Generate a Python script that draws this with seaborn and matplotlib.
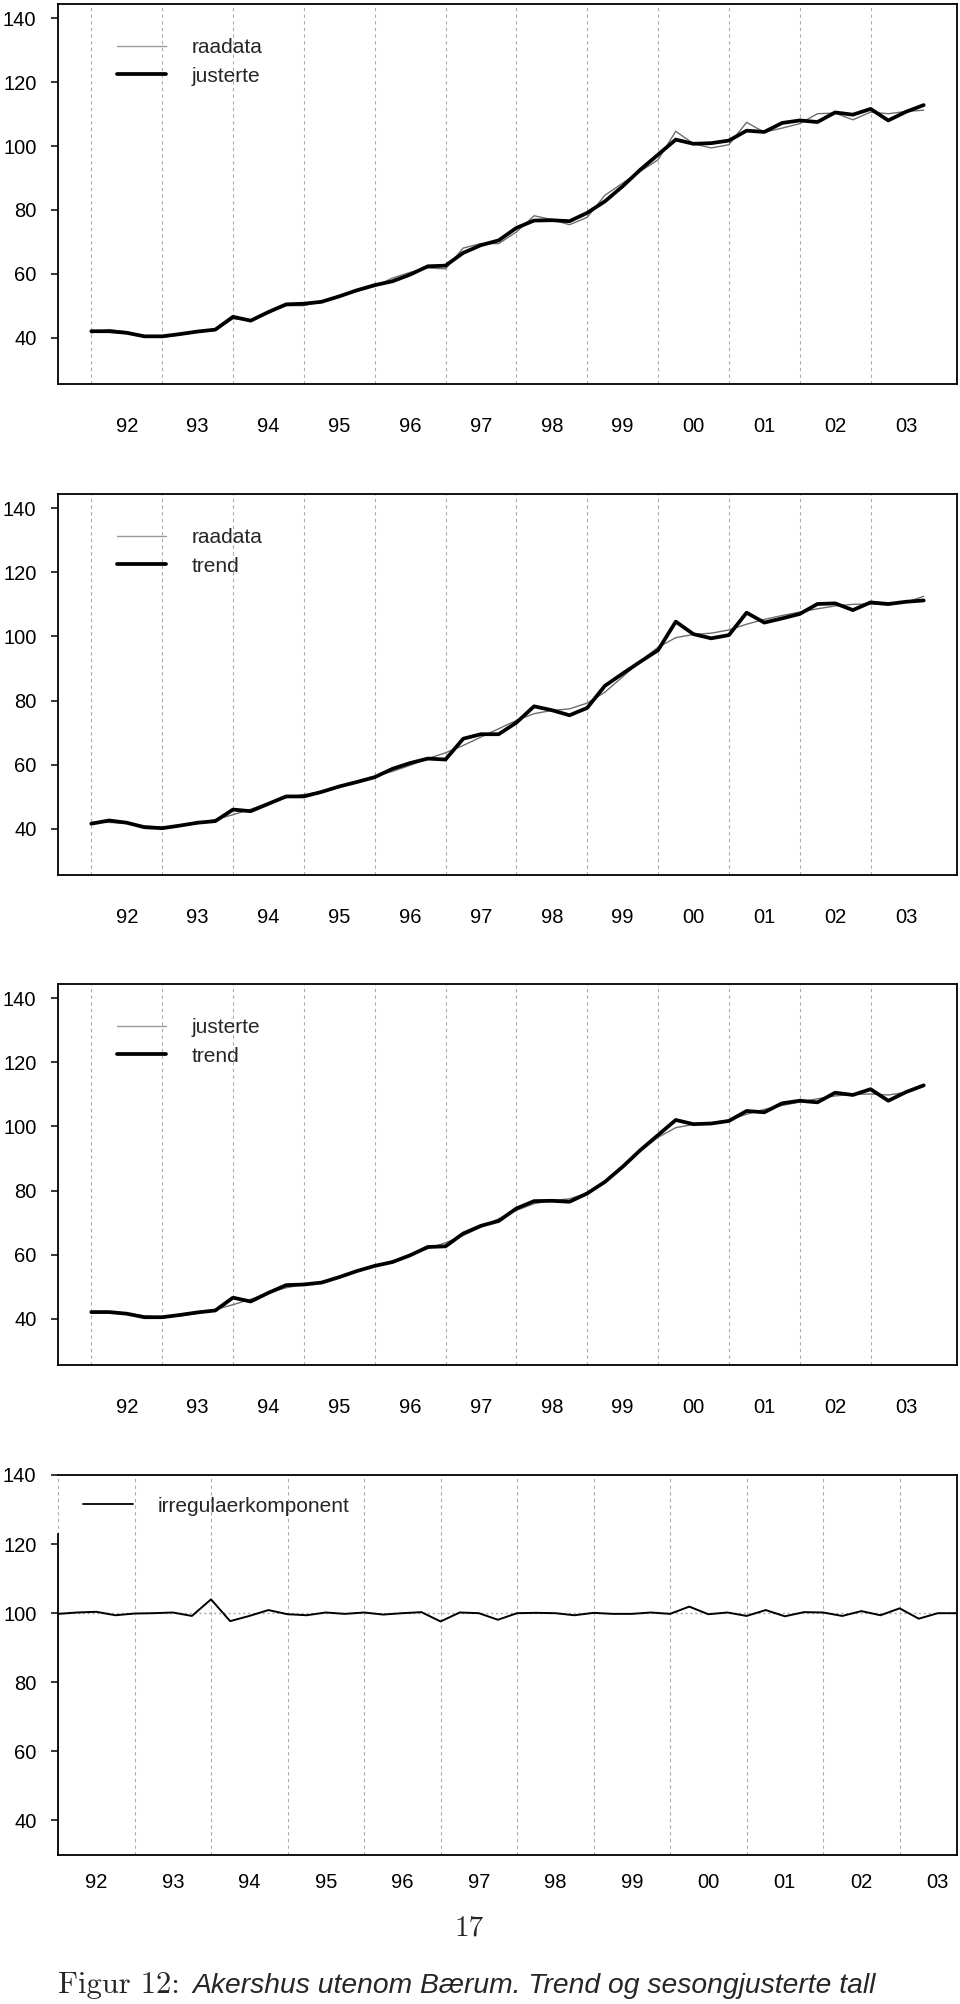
import numpy as np
import pandas as pd
import matplotlib
matplotlib.use("Agg")
import matplotlib.pyplot as plt
from matplotlib.lines import Line2D
import seaborn as sns

# quarterly index 1992Q1 - 2003Q4
quarters = pd.period_range("1992Q1", "2003Q4", freq="Q")
t = np.array([q.year + (q.quarter - 1) / 4 for q in quarters])

raadata = [41.6, 42.6, 41.9, 40.5, 40.2, 41.0, 41.9, 42.4, 46.0, 45.5, 47.8, 50.1,
           50.1, 51.5, 53.2, 54.6, 56.1, 58.7, 60.5, 61.9, 61.6, 68.1, 69.5, 69.5,
           73.1, 78.2, 77.0, 75.4, 77.7, 84.6, 88.4, 92.1, 95.7, 104.6, 100.7, 99.4,
           100.4, 107.4, 104.3, 105.6, 107.0, 110.1, 110.3, 108.2, 110.6, 110.1, 110.8, 111.2]
justerte = [42.1, 42.1, 41.6, 40.5, 40.5, 41.2, 42.0, 42.6, 46.6, 45.4, 48.1, 50.5,
            50.7, 51.3, 53.0, 54.9, 56.5, 57.7, 59.8, 62.4, 62.6, 66.6, 69.0, 70.5,
            74.4, 76.7, 76.8, 76.5, 79.1, 82.7, 87.4, 92.6, 97.3, 102.0, 100.7, 100.9,
            101.7, 104.8, 104.4, 107.2, 108.0, 107.5, 110.5, 109.8, 111.6, 108.0, 110.7, 112.8]
trend = [42.0, 42.0, 41.7, 40.9, 40.5, 40.9, 41.7, 42.9, 44.4, 46.1, 48.0, 49.7,
         50.7, 51.5, 53.0, 54.8, 56.4, 57.9, 59.8, 61.9, 63.7, 66.0, 68.6, 71.2,
         73.8, 75.9, 76.9, 77.4, 79.2, 82.6, 87.4, 92.3, 96.6, 99.6, 100.6, 101.0,
         102.0, 103.8, 105.3, 106.5, 107.6, 108.6, 109.5, 110.0, 110.1, 109.8, 110.6, 112.5]
irregular = [99.8, 100.2, 100.4, 99.4, 99.9, 100.0, 100.2, 99.2, 104.0, 97.7, 99.2, 100.9,
             99.7, 99.4, 100.2, 99.8, 100.2, 99.6, 100.0, 100.3, 97.6, 100.2, 100.0, 98.1,
             100.0, 100.1, 100.0, 99.4, 100.1, 99.8, 99.8, 100.2, 99.8, 101.9, 99.7, 100.2,
             99.2, 100.9, 99.1, 100.3, 100.2, 99.2, 100.6, 99.4, 101.4, 98.4, 100.0, 100.0]

year_labels = ["92", "93", "94", "95", "96", "97", "98", "99", "00", "01", "02", "03"]
year_starts = list(range(1992, 2004))
y_ticks = [40, 60, 80, 100, 120, 140]

THIN = "#6e6e6e"
LEG_THIN = "#999999"
THICK_LW = 2.7

sns.set_style("white")
plt.rcParams["font.family"] = ["Liberation Sans", "DejaVu Sans"]

fig = plt.figure(figsize=(9.6, 20.04), dpi=100)
W, H = 960, 2004
left, right = 58, 957


def make_axes(top, bottom):
    return fig.add_axes([left / W, 1 - bottom / H, (right - left) / W, (bottom - top) / H])


def style_axes(ax, xpad):
    for s in ax.spines.values():
        s.set_color("black")
        s.set_linewidth(1.3)
    ax.set_yticks(y_ticks)
    ax.set_xticks([y + 0.5 for y in year_starts])
    ax.set_xticklabels(year_labels)
    ax.set_xticks(year_starts, minor=True)
    ax.tick_params(axis="y", which="major", left=True, length=5, width=1.1,
                   pad=10.5, labelsize=14.5, colors="black")
    ax.tick_params(axis="x", which="both", bottom=False, length=0, pad=xpad,
                   labelsize=14.5, colors="black")
    ax.grid(False)
    ax.grid(which="minor", axis="x", color="#aaaaaa", linestyle=(0, (3, 3)), linewidth=0.8)
    ax.set_xlabel("")
    ax.set_ylabel("")


def add_legend(ax, labels, x, y, handlelength=2.35, textpad=1.25):
    handles = [Line2D([], [], color=LEG_THIN, lw=1.0),
               Line2D([], [], color="black", lw=THICK_LW)][:len(labels)]
    ax.legend(handles, labels, loc="upper left", bbox_to_anchor=(x, y), frameon=False,
              borderaxespad=0, borderpad=0, handlelength=handlelength,
              handletextpad=textpad, labelspacing=0.45, fontsize=15)


span = t[-1] - t[0]
xlim = (t[0] - 0.04 * span, t[-1] + 0.04 * span)
ylim = (30 - 0.04 * 110, 140 + 0.04 * 110)

# panel 1: raadata (thin) + justerte (thick)
ax1 = make_axes(4, 384)
sns.lineplot(x=t, y=raadata, ax=ax1, color=THIN, lw=1.0, legend=False)
sns.lineplot(x=t, y=justerte, ax=ax1, color="black", lw=THICK_LW, legend=False)
ax1.set_xlim(xlim)
ax1.set_ylim(ylim)
style_axes(ax1, 24)
add_legend(ax1, ["raadata", "justerte"], 0.0656, 0.91)

# panel 2: raadata + trend
ax2 = make_axes(494, 875)
sns.lineplot(x=t, y=trend, ax=ax2, color=THIN, lw=1.0, legend=False)
sns.lineplot(x=t, y=raadata, ax=ax2, color="black", lw=THICK_LW, legend=False)
ax2.set_xlim(xlim)
ax2.set_ylim(ylim)
style_axes(ax2, 24)
add_legend(ax2, ["raadata", "trend"], 0.0656, 0.91)

# panel 3: justerte + trend
ax3 = make_axes(984, 1365)
sns.lineplot(x=t, y=trend, ax=ax3, color=THIN, lw=1.0, legend=False)
sns.lineplot(x=t, y=justerte, ax=ax3, color="black", lw=THICK_LW, legend=False)
ax3.set_xlim(xlim)
ax3.set_ylim(ylim)
style_axes(ax3, 24)
add_legend(ax3, ["justerte", "trend"], 0.0656, 0.91)

# panel 4: irregular component
ax4 = make_axes(1475, 1855)
ax4.axhline(100, color="#aaaaaa", linestyle=(0, (1.5, 2)), linewidth=1.0)
sns.lineplot(x=t, y=irregular, ax=ax4, color="black", lw=1.4, legend=False)
ax4.set_xlim(t[0], t[-1])
ax4.set_ylim(30, 140)
style_axes(ax4, 13)
ax4.spines["left"].set_bounds(30, 123)
ax4.legend([Line2D([], [], color="black", lw=1.3)], ["irregulaerkomponent"],
           loc="upper left", bbox_to_anchor=(0.0278, 0.943), frameon=False,
           borderaxespad=0, borderpad=0, handlelength=2.4, handletextpad=1.2, fontsize=15)

# page number and caption
fig.text(469 / W, 1 - 1935 / H, "17", fontsize=21, family="cmr10", ha="center", va="baseline")
fig.text(58 / W, 1 - 1993 / H, "Figur 12:", fontsize=22, family="cmr10", ha="left", va="baseline")
fig.text(192 / W, 1 - 1993 / H, "Akershus utenom Bærum. Trend og sesongjusterte tall",
         fontsize=20.3, style="italic", ha="left", va="baseline")

fig.savefig("out.png", dpi=100)
